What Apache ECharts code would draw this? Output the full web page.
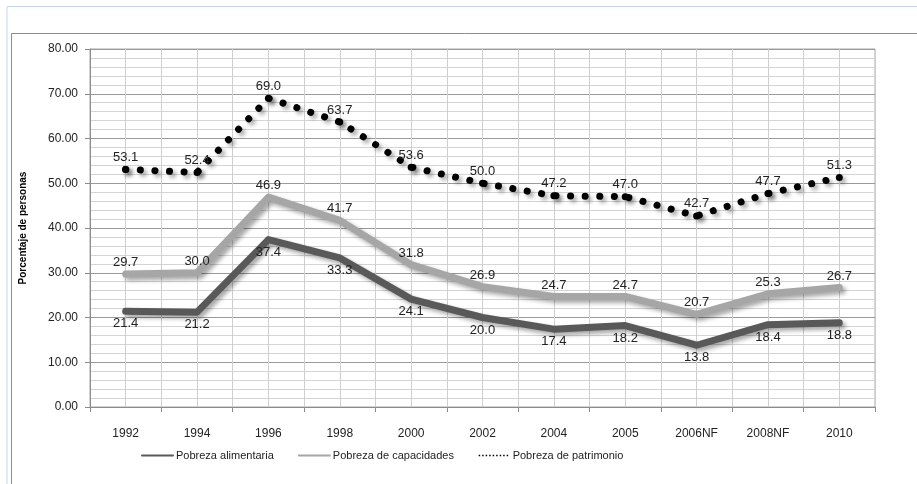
<!DOCTYPE html>
<html>
<head>
<meta charset="utf-8">
<script src="https://cdn.jsdelivr.net/npm/echarts@6/dist/echarts.min.js"></script>
<style>
  html, body { margin: 0; padding: 0; background: #fff; }
  #chart { width: 917px; height: 484px; }
</style>
</head>
<body>
<div id="chart"></div>
<script>
    var years = ['1992', '1994', '1996', '1998', '2000', '2002', '2004', '2005', '2006NF', '2008NF', '2010'];
    var alimentaria = [21.4, 21.2, 37.4, 33.3, 24.1, 20.0, 17.4, 18.2, 13.8, 18.4, 18.8];
    var capacidades = [29.7, 30.0, 46.9, 41.7, 31.8, 26.9, 24.7, 24.7, 20.7, 25.3, 26.7];
    var patrimonio = [53.1, 52.4, 69.0, 63.7, 53.6, 50.0, 47.2, 47.0, 42.7, 47.7, 51.3];

    var FONT = 'Liberation Sans';
    var NONE = 'rgba(0,0,0,0)';

    function shadow(o) {
        o.shadowColor = 'rgba(0,0,0,0.35)';
        o.shadowBlur = 4;
        o.shadowOffsetX = 3;
        o.shadowOffsetY = 3;
        return o;
    }

    function dataLabel(pos, dist) {
        return {
            show: true,
            position: pos,
            distance: dist,
            color: '#222',
            fontFamily: FONT,
            fontSize: 13,
            formatter: function(p) { return p.value.toFixed(1); }
        };
    }

    var noShadow = { shadowBlur: 0, shadowOffsetX: 0, shadowOffsetY: 0 };

    var chart = echarts.init(document.getElementById('chart'));

    var option = {
        animation: false,
        backgroundColor: '#fff',
        graphic: [
            // outer light frame
            { type: 'polyline', shape: { points: [[7, 484], [7, 6.5], [917, 6.5]] },
              style: { stroke: '#c9d5ec', fill: null, lineWidth: 1 }, silent: true },
            // inner gray frame
            { type: 'polyline', shape: { points: [[11.5, 484], [11.5, 33.5], [917, 33.5]] },
              style: { stroke: '#8c8c8c', fill: null, lineWidth: 1 }, silent: true }
        ],
        legend: {
            bottom: 18,
            left: 136,
            itemWidth: 31,
            itemHeight: 10,
            itemGap: 24,
            textStyle: { fontFamily: FONT, fontSize: 11, color: '#222', padding: [0, 0, 0, -2] },
            data: [
                { name: 'Pobreza alimentaria', itemStyle: { color: NONE },
                  lineStyle: Object.assign({ width: 2, color: '#595959' }, noShadow) },
                { name: 'Pobreza de capacidades', itemStyle: { color: NONE },
                  lineStyle: Object.assign({ width: 2, color: '#a6a6a6' }, noShadow) },
                { name: 'Pobreza de patrimonio', itemStyle: { color: NONE },
                  lineStyle: Object.assign({ width: 1.5, color: '#000', type: [1.5, 2], cap: 'butt' }, noShadow) }
            ]
        },
        grid: {
            left: 90,
            right: 42,
            top: 49,
            bottom: 77,
            show: true,
            borderColor: '#a6a6a6',
            borderWidth: 1,
            containLabel: false
        },
        xAxis: [{
            type: 'category',
            data: years,
            boundaryGap: true,
            axisLine: { lineStyle: { color: '#8c8c8c' } },
            axisTick: { show: true, length: 5, lineStyle: { color: '#8c8c8c' } },
            axisLabel: { margin: 21, color: '#222', fontFamily: FONT, fontSize: 12 },
            splitLine: { show: false }
        }, {
            // half-category vertical grid lines
            type: 'value',
            min: 0,
            max: 11,
            interval: 0.5,
            position: 'bottom',
            axisLine: { show: false },
            axisTick: { show: false },
            axisLabel: { show: false },
            splitLine: { show: true, lineStyle: { color: '#cfcfcf', width: 1 } }
        }],
        yAxis: {
            type: 'value',
            min: 0,
            max: 80,
            interval: 10,
            name: 'Porcentaje de personas',
            nameLocation: 'middle',
            nameRotate: 90,
            nameGap: 62,
            nameTextStyle: { fontFamily: FONT, fontSize: 10, fontWeight: 'bold', color: '#000' },
            axisLine: { show: true, lineStyle: { color: '#8c8c8c' } },
            axisTick: { show: true, length: 5, lineStyle: { color: '#8c8c8c' } },
            axisLabel: {
                margin: 12,
                color: '#222',
                fontFamily: FONT,
                fontSize: 12,
                formatter: function(v) { return v.toFixed(2); }
            },
            splitLine: { show: true, lineStyle: { color: '#9a9a9a' } },
            minorTick: { show: false, splitNumber: 5 },
            minorSplitLine: { show: true, lineStyle: { color: '#d4d4d4' } }
        },
        series: [{
            name: 'Pobreza alimentaria',
            type: 'line',
            data: alimentaria,
            symbol: 'circle',
            symbolSize: 2,
            itemStyle: { color: NONE },
            lineStyle: shadow({ color: '#595959', width: 7, cap: 'round', join: 'round' }),
            label: dataLabel('bottom', 5),
            z: 3
        }, {
            name: 'Pobreza de capacidades',
            type: 'line',
            data: capacidades,
            symbol: 'circle',
            symbolSize: 2,
            itemStyle: { color: NONE },
            lineStyle: shadow({ color: '#a6a6a6', width: 7, cap: 'round', join: 'round' }),
            label: dataLabel('top', 4),
            z: 3
        }, {
            name: 'Pobreza de patrimonio',
            type: 'line',
            data: patrimonio,
            symbol: 'circle',
            symbolSize: 7,
            itemStyle: shadow({ color: '#000' }),
            lineStyle: shadow({ color: '#000', width: 7, type: [0.1, 14.5], cap: 'round' }),
            label: dataLabel('top', 2),
            z: 4
        }]
    };
    chart.setOption(option);
</script>
</body>
</html>
